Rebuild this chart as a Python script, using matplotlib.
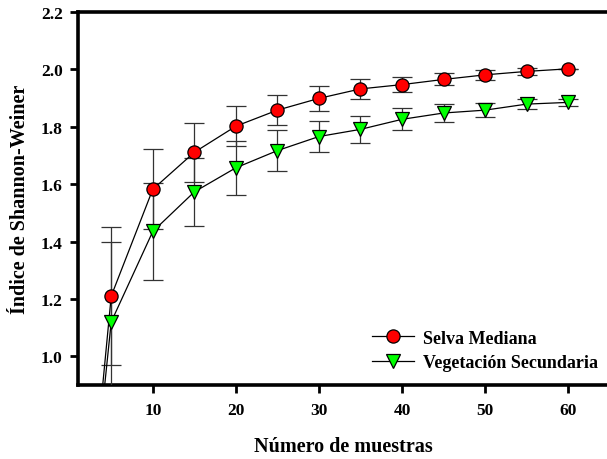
import numpy as np
import matplotlib
matplotlib.use("Agg")
import matplotlib.pyplot as plt

plt.rcParams['font.family'] = ['Liberation Serif', 'DejaVu Serif']
plt.rcParams['font.weight'] = 'bold'

# Número de muestras (the first point at 1 sample lies below the visible range)
muestras = [1, 5, 10, 15, 20, 25, 30, 35, 40, 45, 50, 55, 60]

# Selva Mediana: mean Shannon-Weiner and error
selva = [0.0, 1.21, 1.582, 1.711, 1.802, 1.858, 1.899, 1.932, 1.947, 1.965, 1.981, 1.993, 2.002]
selva_err = [0.0, 0.24, 0.14, 0.102, 0.07, 0.053, 0.044, 0.035, 0.026, 0.021, 0.017, 0.012, 0.0]

# Vegetación Secundaria
secundaria = [0.0, 1.12, 1.435, 1.573, 1.657, 1.717, 1.766, 1.791, 1.826, 1.848, 1.858, 1.879, 1.885]
secundaria_err = [0.0, 0.28, 0.17, 0.118, 0.095, 0.072, 0.055, 0.047, 0.038, 0.031, 0.025, 0.018, 0.012]

fig = plt.figure(figsize=(6.07, 4.60), dpi=100)
ax = fig.add_axes([0.1285, 0.1609, 0.8760, 0.8108])

ax.errorbar(muestras, selva, yerr=selva_err, color='black', lw=0.9,
            marker='o', ms=9.5, mfc='#ff0000', mec='black', mew=0.9,
            ecolor='#333333', elinewidth=0.9, capsize=7, capthick=0.9,
            label='Selva Mediana', zorder=3)
ax.errorbar(muestras, secundaria, yerr=secundaria_err, color='black', lw=0.9,
            marker='v', ms=10.5, mfc='#00ff00', mec='black', mew=0.9,
            ecolor='#333333', elinewidth=0.9, capsize=7, capthick=0.9,
            label='Vegetación Secundaria', zorder=3)

ax.set_xlim(1, 65)
ax.set_ylim(0.9, 2.2)
ax.set_xticks([10, 20, 30, 40, 50, 60])
ax.set_yticks([1.0, 1.2, 1.4, 1.6, 1.8, 2.0, 2.2])
ax.yaxis.set_major_formatter(matplotlib.ticker.FormatStrFormatter('%.1f'))

for side in ['left', 'bottom', 'top']:
    ax.spines[side].set_linewidth(2.6)
ax.spines['right'].set_visible(False)
ax.tick_params(axis='both', direction='out', length=6, width=2, labelsize=12.5, pad=6)
ax.tick_params(axis='y', pad=5)

ax.set_xlabel('Número de muestras', fontsize=14.5, fontweight='bold', labelpad=13)
ax.set_ylabel('Índice de Shannon-Weiner', fontsize=14.5, fontweight='bold', labelpad=8)

handles, labels = ax.get_legend_handles_labels()
handles = [h[0] for h in handles]
fig.legend(handles, labels, loc='upper left', bbox_to_anchor=(0.613, 0.281),
           frameon=False, handlelength=2.3, handletextpad=0.5,
           labelspacing=0.4, borderpad=0, borderaxespad=0,
           prop={'weight': 'bold', 'size': 13})

fig.savefig('out.png', dpi=100)
